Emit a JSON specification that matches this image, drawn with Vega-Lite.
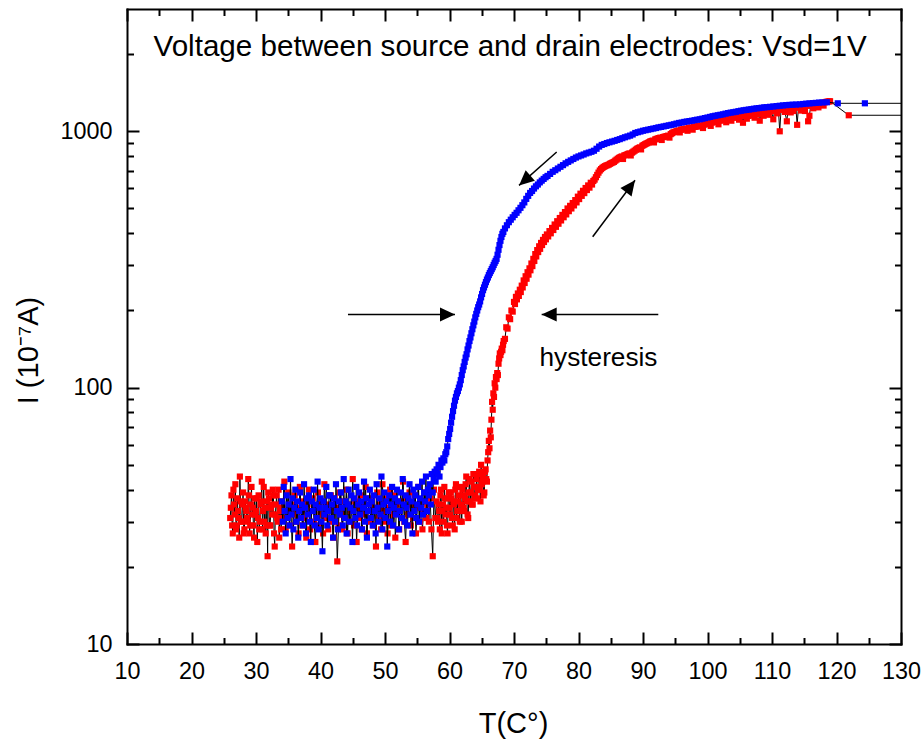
{
"$schema": "https://vega.github.io/schema/vega-lite/v6.json",
"width": 774, "height": 635,
"autosize": "none",
"padding": {"left": 127, "top": 9, "right": 21, "bottom": 95},
"background": "white",
"config": {"view": {"stroke": null}, "font": "Liberation Sans",
  "axis": {"grid": false, "labelFont": "Liberation Sans", "titleFont": "Liberation Sans", "labelColor": "black", "titleColor": "black", "tickColor": "black", "domainColor": "black", "titleFontWeight": "normal"}},
"datasets": {
"red": [
{"T":26.0,"I":31},{"T":26.1,"I":34},{"T":26.2,"I":38},{"T":26.3,"I":29},{"T":26.4,"I":27},{"T":26.5,"I":40},{"T":26.6,"I":35},{"T":26.7,"I":32},{"T":26.8,"I":42},{"T":26.9,"I":28},
{"T":27.0,"I":29},{"T":27.1,"I":37},{"T":27.2,"I":33},{"T":27.3,"I":31},{"T":27.4,"I":26},{"T":27.5,"I":45},{"T":27.6,"I":36},{"T":27.7,"I":30},{"T":27.8,"I":30},{"T":27.9,"I":35},
{"T":28.0,"I":39},{"T":28.1,"I":27},{"T":28.2,"I":28},{"T":28.3,"I":36},{"T":28.4,"I":34},{"T":28.5,"I":33},{"T":28.6,"I":31},{"T":28.7,"I":30},{"T":28.8,"I":44},{"T":28.9,"I":38},
{"T":29.0,"I":27},{"T":29.1,"I":29},{"T":29.2,"I":35},{"T":29.3,"I":41},{"T":29.4,"I":32},{"T":29.5,"I":34},{"T":29.6,"I":29},{"T":29.7,"I":26},{"T":29.8,"I":37},{"T":29.9,"I":32},
{"T":30.0,"I":33},{"T":30.1,"I":37},{"T":30.2,"I":25},{"T":30.3,"I":31},{"T":30.4,"I":38},{"T":30.5,"I":28},{"T":30.6,"I":30},{"T":30.7,"I":35},{"T":30.8,"I":36},{"T":30.9,"I":43},
{"T":31.0,"I":28},{"T":31.1,"I":33},{"T":31.2,"I":41},{"T":31.3,"I":30},{"T":31.4,"I":34},{"T":31.5,"I":27},{"T":31.6,"I":29},{"T":31.7,"I":36},{"T":31.8,"I":22},{"T":31.9,"I":39},
{"T":32.0,"I":37},{"T":32.1,"I":29},{"T":32.2,"I":29},{"T":32.3,"I":34},{"T":32.4,"I":35},{"T":32.5,"I":32},{"T":32.6,"I":40},{"T":32.7,"I":38},{"T":32.8,"I":27},{"T":32.9,"I":24},
{"T":33.0,"I":32},{"T":33.1,"I":35},{"T":33.2,"I":38},{"T":33.3,"I":31},{"T":33.4,"I":30},{"T":33.5,"I":40},{"T":33.6,"I":26},{"T":33.7,"I":33},{"T":33.8,"I":34},{"T":33.9,"I":28},
{"T":34.0,"I":36},{"T":34.2,"I":31},{"T":34.4,"I":43},{"T":34.6,"I":28},{"T":34.8,"I":33},{"T":35.0,"I":39},{"T":35.2,"I":29},{"T":35.4,"I":35},{"T":35.6,"I":24},{"T":35.8,"I":32},
{"T":36.0,"I":38},{"T":36.2,"I":30},{"T":36.4,"I":34},{"T":36.6,"I":27},{"T":36.8,"I":41},{"T":37.0,"I":33},{"T":37.2,"I":29},{"T":37.4,"I":36},{"T":37.6,"I":31},{"T":37.8,"I":26},
{"T":38.0,"I":35},{"T":38.2,"I":40},{"T":38.4,"I":28},{"T":38.6,"I":33},{"T":38.8,"I":37},{"T":39.0,"I":30},{"T":39.2,"I":25},{"T":39.4,"I":34},{"T":39.6,"I":39},{"T":39.8,"I":29},
{"T":40.0,"I":32},{"T":40.2,"I":36},{"T":40.4,"I":27},{"T":40.6,"I":42},{"T":40.8,"I":31},{"T":41.0,"I":35},{"T":41.2,"I":28},{"T":41.4,"I":33},{"T":41.6,"I":38},{"T":41.8,"I":30},
{"T":42.0,"I":26},{"T":42.2,"I":37},{"T":42.4,"I":34},{"T":42.6,"I":21},{"T":42.8,"I":29},{"T":43.0,"I":39},{"T":43.2,"I":32},{"T":43.4,"I":28},{"T":43.6,"I":36},{"T":43.8,"I":31},
{"T":44.0,"I":40},{"T":44.2,"I":27},{"T":44.4,"I":35},{"T":44.6,"I":30},{"T":44.8,"I":33},{"T":45.0,"I":44},{"T":45.2,"I":29},{"T":45.4,"I":36},{"T":45.6,"I":25},{"T":45.8,"I":34},
{"T":46.0,"I":31},{"T":46.2,"I":38},{"T":46.4,"I":28},{"T":46.6,"I":35},{"T":46.8,"I":32},{"T":47.0,"I":41},{"T":47.2,"I":27},{"T":47.4,"I":33},{"T":47.6,"I":37},{"T":47.8,"I":30},
{"T":48.0,"I":36},{"T":48.2,"I":29},{"T":48.4,"I":34},{"T":48.6,"I":24},{"T":48.8,"I":39},{"T":49.0,"I":31},{"T":49.2,"I":35},{"T":49.4,"I":28},{"T":49.6,"I":42},{"T":49.8,"I":33},
{"T":50.0,"I":30},{"T":50.2,"I":37},{"T":50.4,"I":27},{"T":50.6,"I":34},{"T":50.8,"I":40},{"T":51.0,"I":29},{"T":51.2,"I":32},{"T":51.4,"I":38},{"T":51.6,"I":26},{"T":51.8,"I":35},
{"T":52.0,"I":33},{"T":52.2,"I":28},{"T":52.4,"I":36},{"T":52.6,"I":31},{"T":52.8,"I":43},{"T":53.0,"I":30},{"T":53.2,"I":25},{"T":53.4,"I":37},{"T":53.6,"I":32},{"T":53.8,"I":39},
{"T":54.0,"I":29},{"T":54.2,"I":35},{"T":54.4,"I":31},{"T":54.6,"I":38},{"T":54.8,"I":27},{"T":55.0,"I":34},{"T":55.2,"I":41},{"T":55.4,"I":30},{"T":55.6,"I":36},{"T":55.8,"I":28},
{"T":56.0,"I":33},{"T":56.2,"I":39},{"T":56.4,"I":31},{"T":56.6,"I":35},{"T":56.8,"I":30},{"T":57.0,"I":37},{"T":57.2,"I":28},{"T":57.4,"I":22},{"T":57.6,"I":40},{"T":57.8,"I":31},
{"T":58.0,"I":36},{"T":58.1,"I":31},{"T":58.2,"I":30},{"T":58.3,"I":35},{"T":58.4,"I":33},{"T":58.5,"I":28},{"T":58.6,"I":38},{"T":58.7,"I":40},{"T":58.8,"I":27},{"T":58.9,"I":33},
{"T":59.0,"I":35},{"T":59.1,"I":30},{"T":59.2,"I":41},{"T":59.3,"I":37},{"T":59.4,"I":32},{"T":59.5,"I":34},{"T":59.6,"I":29},{"T":59.7,"I":27},{"T":59.8,"I":37},{"T":59.9,"I":39},
{"T":60.0,"I":34},{"T":60.1,"I":32},{"T":60.2,"I":39},{"T":60.3,"I":37},{"T":60.4,"I":31},{"T":60.5,"I":29},{"T":60.6,"I":36},{"T":60.7,"I":35},{"T":60.8,"I":28},{"T":60.9,"I":40},
{"T":61.0,"I":42},{"T":61.1,"I":31},{"T":61.2,"I":33},{"T":61.3,"I":36},{"T":61.4,"I":38},{"T":61.5,"I":33},{"T":61.6,"I":30},{"T":61.7,"I":41},{"T":61.8,"I":35},{"T":61.9,"I":30},
{"T":62.0,"I":40},{"T":62.1,"I":38},{"T":62.2,"I":34},{"T":62.3,"I":33},{"T":62.4,"I":37},{"T":62.5,"I":42},{"T":62.6,"I":45},{"T":62.7,"I":36},{"T":62.8,"I":32},{"T":62.9,"I":31},
{"T":63.0,"I":39},{"T":63.1,"I":44},{"T":63.2,"I":36},{"T":63.3,"I":39},{"T":63.4,"I":43},{"T":63.5,"I":35},{"T":63.6,"I":35},{"T":63.7,"I":46},{"T":63.8,"I":41},{"T":63.9,"I":37},
{"T":64.0,"I":38},{"T":64.1,"I":41},{"T":64.2,"I":44},{"T":64.3,"I":37},{"T":64.4,"I":40},{"T":64.5,"I":46},{"T":64.6,"I":47},{"T":64.7,"I":40},{"T":64.8,"I":36},{"T":64.9,"I":50},
{"T":65.0,"I":42},{"T":65.1,"I":43},{"T":65.2,"I":45},{"T":65.3,"I":38},{"T":65.4,"I":39},{"T":65.5,"I":47},{"T":65.6,"I":48},{"T":65.7,"I":44},{"T":65.8,"I":43},{"T":65.9,"I":52},
{"T":66.0,"I":56},{"T":66.1,"I":62},{"T":66.2,"I":58},{"T":66.3,"I":68},{"T":66.4,"I":64},{"T":66.5,"I":75},{"T":66.6,"I":88},{"T":66.7,"I":82},{"T":66.8,"I":95},{"T":66.9,"I":92},
{"T":67.0,"I":104},{"T":67.1,"I":100},{"T":67.2,"I":110},{"T":67.3,"I":108},{"T":67.4,"I":114},{"T":67.5,"I":112},{"T":67.6,"I":124},{"T":67.7,"I":130},{"T":67.8,"I":136},{"T":67.9,"I":134},
{"T":68.0,"I":138},{"T":68.1,"I":142},{"T":68.2,"I":140},{"T":68.3,"I":147},{"T":68.4,"I":152},{"T":68.6,"I":155},{"T":68.8,"I":172},{"T":69.0,"I":170},{"T":69.2,"I":188},{"T":69.4,"I":185},
{"T":69.6,"I":200},{"T":69.8,"I":198},{"T":70.0,"I":216},{"T":70.15,"I":212},{"T":70.3,"I":226},{"T":70.45,"I":221},{"T":70.6,"I":233},{"T":70.75,"I":228},{"T":70.9,"I":241},{"T":71.05,"I":236},
{"T":71.2,"I":250},{"T":71.35,"I":246},{"T":71.5,"I":262},{"T":71.65,"I":256},{"T":71.8,"I":272},{"T":71.95,"I":266},{"T":72.1,"I":282},{"T":72.25,"I":276},{"T":72.4,"I":292},{"T":72.55,"I":287},
{"T":72.7,"I":305},{"T":72.85,"I":298},{"T":73.0,"I":318},{"T":73.15,"I":312},{"T":73.3,"I":332},{"T":73.45,"I":325},{"T":73.6,"I":344},{"T":73.75,"I":338},{"T":73.9,"I":356},{"T":74.05,"I":348},
{"T":74.2,"I":367},{"T":74.35,"I":360},{"T":74.5,"I":377},{"T":74.65,"I":370},{"T":74.8,"I":387},{"T":74.95,"I":379},{"T":75.1,"I":396},{"T":75.3,"I":389},{"T":75.5,"I":408},{"T":75.7,"I":400},
{"T":75.9,"I":420},{"T":76.1,"I":412},{"T":76.3,"I":433},{"T":76.5,"I":424},{"T":76.7,"I":446},{"T":76.9,"I":436},{"T":77.1,"I":459},{"T":77.3,"I":449},{"T":77.5,"I":472},{"T":77.7,"I":462},
{"T":77.9,"I":484},{"T":78.1,"I":474},{"T":78.3,"I":500},{"T":78.5,"I":488},{"T":78.7,"I":512},{"T":78.9,"I":500},{"T":79.1,"I":525},{"T":79.3,"I":514},{"T":79.5,"I":539},{"T":79.7,"I":528},
{"T":79.9,"I":556},{"T":80.1,"I":544},{"T":80.3,"I":571},{"T":80.5,"I":560},{"T":80.7,"I":586},{"T":80.9,"I":574},{"T":81.1,"I":601},{"T":81.3,"I":590},{"T":81.5,"I":615},{"T":81.7,"I":603},
{"T":81.9,"I":630},{"T":82.1,"I":620},{"T":82.3,"I":640},{"T":82.5,"I":648},{"T":82.7,"I":662},{"T":82.9,"I":676},{"T":83.1,"I":690},{"T":83.3,"I":703},{"T":83.5,"I":712},{"T":83.7,"I":720},
{"T":83.9,"I":726},{"T":84.1,"I":731},{"T":84.3,"I":735},{"T":84.5,"I":738},{"T":84.7,"I":742},{"T":84.9,"I":747},{"T":85.1,"I":752},{"T":85.3,"I":756},{"T":85.5,"I":760},{"T":85.7,"I":768},
{"T":85.9,"I":775},{"T":86.1,"I":782},{"T":86.3,"I":788},{"T":86.5,"I":793},{"T":86.7,"I":798},{"T":86.9,"I":780},{"T":87.1,"I":805},{"T":87.3,"I":808},{"T":87.5,"I":812},{"T":87.7,"I":816},
{"T":87.9,"I":820},{"T":88.1,"I":805},{"T":88.3,"I":826},{"T":88.5,"I":833},{"T":88.7,"I":840},{"T":88.9,"I":848},{"T":89.1,"I":855},{"T":89.3,"I":860},{"T":89.5,"I":866},{"T":89.7,"I":850},
{"T":89.9,"I":878},{"T":90.1,"I":884},{"T":90.3,"I":890},{"T":90.5,"I":895},{"T":90.7,"I":900},{"T":90.9,"I":906},{"T":91.1,"I":912},{"T":91.3,"I":916},{"T":91.5,"I":920},{"T":91.7,"I":905},
{"T":91.9,"I":930},{"T":92.1,"I":934},{"T":92.3,"I":938},{"T":92.5,"I":941},{"T":92.7,"I":945},{"T":92.9,"I":925},{"T":93.1,"I":949},{"T":93.3,"I":952},{"T":93.5,"I":955},{"T":93.7,"I":958},
{"T":93.9,"I":962},{"T":94.1,"I":945},{"T":94.3,"I":975},{"T":94.5,"I":983},{"T":94.7,"I":990},{"T":94.9,"I":995},{"T":95.1,"I":998},{"T":95.3,"I":1003},{"T":95.5,"I":1008},{"T":95.7,"I":990},
{"T":95.9,"I":1015},{"T":96.1,"I":1017},{"T":96.3,"I":1018},{"T":96.5,"I":1022},{"T":96.7,"I":1025},{"T":96.9,"I":1005},{"T":97.1,"I":1030},{"T":97.3,"I":1032},{"T":97.5,"I":1035},{"T":97.7,"I":1015},
{"T":97.9,"I":1040},{"T":98.1,"I":1042},{"T":98.3,"I":1045},{"T":98.5,"I":1046},{"T":98.7,"I":1048},{"T":98.9,"I":1052},{"T":99.1,"I":1055},{"T":99.3,"I":1030},{"T":99.5,"I":1062},{"T":99.7,"I":1066},
{"T":99.9,"I":1070},{"T":100.1,"I":1072},{"T":100.3,"I":1075},{"T":100.5,"I":1050},{"T":100.7,"I":1082},{"T":100.9,"I":1086},{"T":101.1,"I":1090},{"T":101.3,"I":1092},{"T":101.5,"I":1094},{"T":101.7,"I":1065},
{"T":101.9,"I":1100},{"T":102.1,"I":1104},{"T":102.3,"I":1108},{"T":102.5,"I":1112},{"T":102.7,"I":1115},{"T":102.9,"I":1085},{"T":103.1,"I":1122},{"T":103.3,"I":1125},{"T":103.5,"I":1128},{"T":103.7,"I":1100},
{"T":103.9,"I":1135},{"T":104.1,"I":1133},{"T":104.3,"I":1130},{"T":104.5,"I":1136},{"T":104.7,"I":1140},{"T":104.9,"I":1110},{"T":105.1,"I":1145},{"T":105.3,"I":1147},{"T":105.5,"I":1080},{"T":105.7,"I":1148},
{"T":105.9,"I":1150},{"T":106.1,"I":1120},{"T":106.3,"I":1148},{"T":106.5,"I":1153},{"T":106.7,"I":1155},{"T":106.9,"I":1158},{"T":107.1,"I":1160},{"T":107.3,"I":1130},{"T":107.5,"I":1165},{"T":107.7,"I":1168},
{"T":107.9,"I":1170},{"T":108.1,"I":1100},{"T":108.3,"I":1175},{"T":108.5,"I":1178},{"T":108.7,"I":1150},{"T":108.9,"I":1185},{"T":109.1,"I":1188},{"T":109.3,"I":1190},{"T":109.5,"I":1160},{"T":109.7,"I":1195},
{"T":109.9,"I":1200},{"T":110.2,"I":1114},{"T":110.4,"I":1203},{"T":110.6,"I":1206},{"T":110.8,"I":1175},{"T":111.0,"I":1212},{"T":111.2,"I":1000},{"T":111.4,"I":1215},{"T":111.6,"I":1218},{"T":111.8,"I":1220},
{"T":112.0,"I":1190},{"T":112.3,"I":1094},{"T":112.5,"I":1226},{"T":112.7,"I":1229},{"T":112.9,"I":1185},{"T":113.1,"I":1233},{"T":113.3,"I":1200},{"T":113.5,"I":1238},{"T":113.7,"I":1240},{"T":113.9,"I":1060},
{"T":114.1,"I":1241},{"T":114.3,"I":1242},{"T":114.5,"I":1205},{"T":114.7,"I":1250},{"T":114.9,"I":1215},{"T":115.1,"I":1200},{"T":115.4,"I":1258},{"T":115.6,"I":1094},{"T":115.8,"I":1150},{"T":116.0,"I":1260},
{"T":116.2,"I":1262},{"T":116.4,"I":1230},{"T":116.6,"I":1270},{"T":116.8,"I":1272},{"T":117.0,"I":1274},{"T":117.2,"I":1240},{"T":117.4,"I":1282},{"T":117.6,"I":1286},{"T":117.8,"I":1290},{"T":118.0,"I":1260},
{"T":118.2,"I":1298},{"T":118.4,"I":1302},{"T":118.6,"I":1305},{"T":118.8,"I":1308},{"T":119.0,"I":1310},{"T":121.9,"I":1155},{"T":140,"I":1155}
],
"blue": [
{"T":34.0,"I":36},{"T":34.15,"I":30},{"T":34.3,"I":41},{"T":34.45,"I":33},{"T":34.6,"I":27},{"T":34.75,"I":38},{"T":34.9,"I":31},{"T":35.05,"I":35},{"T":35.2,"I":29},{"T":35.35,"I":44},
{"T":35.5,"I":32},{"T":35.65,"I":37},{"T":35.8,"I":28},{"T":35.95,"I":34},{"T":36.1,"I":40},{"T":36.25,"I":30},{"T":36.4,"I":36},{"T":36.55,"I":26},{"T":36.7,"I":33},{"T":36.85,"I":39},
{"T":37.0,"I":31},{"T":37.15,"I":35},{"T":37.3,"I":29},{"T":37.45,"I":42},{"T":37.6,"I":34},{"T":37.75,"I":27},{"T":37.9,"I":37},{"T":38.05,"I":32},{"T":38.2,"I":38},{"T":38.35,"I":30},
{"T":38.5,"I":25},{"T":38.65,"I":36},{"T":38.8,"I":33},{"T":38.95,"I":40},{"T":39.1,"I":29},{"T":39.25,"I":35},{"T":39.4,"I":31},{"T":39.55,"I":43},{"T":39.7,"I":28},{"T":39.85,"I":34},
{"T":40.0,"I":37},{"T":40.15,"I":30},{"T":40.3,"I":23},{"T":40.45,"I":36},{"T":40.6,"I":32},{"T":40.75,"I":34},{"T":40.9,"I":41},{"T":41.05,"I":29},{"T":41.2,"I":33},{"T":41.35,"I":38},
{"T":41.5,"I":38},{"T":41.65,"I":31},{"T":41.8,"I":35},{"T":41.95,"I":26},{"T":42.1,"I":37},{"T":42.25,"I":30},{"T":42.4,"I":42},{"T":42.55,"I":33},{"T":42.7,"I":28},{"T":42.85,"I":36},
{"T":43.0,"I":32},{"T":43.15,"I":39},{"T":43.3,"I":34},{"T":43.45,"I":29},{"T":43.6,"I":44},{"T":43.75,"I":31},{"T":43.9,"I":36},{"T":44.05,"I":27},{"T":44.2,"I":35},{"T":44.35,"I":40},
{"T":44.5,"I":30},{"T":44.65,"I":34},{"T":44.8,"I":38},{"T":44.95,"I":25},{"T":45.1,"I":33},{"T":45.25,"I":37},{"T":45.4,"I":31},{"T":45.55,"I":41},{"T":45.7,"I":29},{"T":45.85,"I":35},
{"T":46.0,"I":39},{"T":46.15,"I":32},{"T":46.3,"I":36},{"T":46.45,"I":28},{"T":46.6,"I":34},{"T":46.75,"I":43},{"T":46.9,"I":30},{"T":47.05,"I":37},{"T":47.2,"I":26},{"T":47.35,"I":33},
{"T":47.5,"I":35},{"T":47.65,"I":40},{"T":47.8,"I":31},{"T":47.95,"I":36},{"T":48.1,"I":29},{"T":48.25,"I":38},{"T":48.4,"I":33},{"T":48.55,"I":27},{"T":48.7,"I":42},{"T":48.85,"I":34},
{"T":49.0,"I":30},{"T":49.15,"I":37},{"T":49.3,"I":32},{"T":49.45,"I":45},{"T":49.6,"I":28},{"T":49.75,"I":35},{"T":49.9,"I":39},{"T":50.05,"I":31},{"T":50.2,"I":36},{"T":50.35,"I":24},
{"T":50.5,"I":33},{"T":50.65,"I":38},{"T":50.8,"I":30},{"T":50.95,"I":35},{"T":51.1,"I":41},{"T":51.25,"I":29},{"T":51.4,"I":34},{"T":51.55,"I":37},{"T":51.7,"I":32},{"T":51.85,"I":40},
{"T":52.0,"I":36},{"T":52.15,"I":28},{"T":52.3,"I":33},{"T":52.45,"I":39},{"T":52.6,"I":31},{"T":52.75,"I":44},{"T":52.9,"I":35},{"T":53.05,"I":30},{"T":53.2,"I":38},{"T":53.35,"I":34},
{"T":53.5,"I":29},{"T":53.65,"I":37},{"T":53.8,"I":42},{"T":53.95,"I":32},{"T":54.1,"I":36},{"T":54.25,"I":27},{"T":54.4,"I":40},{"T":54.55,"I":33},{"T":54.7,"I":38},{"T":54.85,"I":31},
{"T":55.0,"I":35},{"T":55.15,"I":41},{"T":55.3,"I":30},{"T":55.45,"I":37},{"T":55.6,"I":34},{"T":55.75,"I":43},{"T":55.9,"I":32},{"T":56.05,"I":39},{"T":56.2,"I":36},{"T":56.35,"I":45},
{"T":56.5,"I":33},{"T":56.65,"I":40},{"T":56.8,"I":38},{"T":56.95,"I":42},{"T":57.1,"I":35},{"T":57.25,"I":46},{"T":57.4,"I":39},
{"T":57.55,"I":44},{"T":57.7,"I":47},{"T":57.85,"I":43},{"T":58.0,"I":48},{"T":58.15,"I":46},{"T":58.3,"I":50},{"T":58.45,"I":45},{"T":58.6,"I":49},{"T":58.75,"I":52},{"T":58.9,"I":51},
{"T":59.05,"I":53},{"T":59.2,"I":52},{"T":59.35,"I":55},{"T":59.5,"I":56},{"T":59.65,"I":59},{"T":59.8,"I":63},{"T":59.95,"I":66},{"T":60.1,"I":69},{"T":60.25,"I":73},{"T":60.4,"I":77},
{"T":60.55,"I":81},{"T":60.7,"I":85},{"T":60.85,"I":89},{"T":61.0,"I":92},{"T":61.15,"I":95},{"T":61.3,"I":97},{"T":61.45,"I":100},{"T":61.6,"I":103},{"T":61.75,"I":107},{"T":61.9,"I":112},
{"T":62.05,"I":117},{"T":62.2,"I":121},{"T":62.35,"I":126},{"T":62.5,"I":131},{"T":62.65,"I":135},{"T":62.8,"I":141},{"T":62.95,"I":146},{"T":63.1,"I":152},{"T":63.25,"I":157},{"T":63.4,"I":163},
{"T":63.55,"I":169},{"T":63.7,"I":175},{"T":63.85,"I":181},{"T":64.0,"I":188},{"T":64.15,"I":194},{"T":64.3,"I":200},{"T":64.45,"I":206},{"T":64.6,"I":211},{"T":64.75,"I":217},{"T":64.9,"I":225},
{"T":65.05,"I":232},{"T":65.2,"I":240},{"T":65.35,"I":246},{"T":65.5,"I":252},{"T":65.65,"I":258},{"T":65.8,"I":264},{"T":65.95,"I":269},{"T":66.1,"I":275},{"T":66.25,"I":280},{"T":66.4,"I":285},
{"T":66.55,"I":290},{"T":66.7,"I":295},{"T":66.85,"I":301},{"T":67.0,"I":307},{"T":67.15,"I":312},{"T":67.3,"I":318},{"T":67.45,"I":330},{"T":67.6,"I":345},{"T":67.75,"I":360},{"T":67.9,"I":374},
{"T":68.05,"I":387},{"T":68.2,"I":398},{"T":68.35,"I":405},{"T":68.6,"I":418},{"T":68.9,"I":430},{"T":69.2,"I":442},{"T":69.5,"I":452},{"T":69.8,"I":462},{"T":70.1,"I":472},{"T":70.4,"I":481},
{"T":70.7,"I":492},{"T":71.0,"I":503},{"T":71.3,"I":515},{"T":71.6,"I":528},{"T":71.9,"I":545},{"T":72.2,"I":560},{"T":72.5,"I":575},{"T":72.8,"I":585},{"T":73.1,"I":598},{"T":73.4,"I":610},
{"T":73.7,"I":620},{"T":74.0,"I":632},{"T":74.3,"I":642},{"T":74.6,"I":652},{"T":74.9,"I":662},{"T":75.2,"I":670},{"T":75.6,"I":682},{"T":76.0,"I":695},{"T":76.4,"I":705},{"T":76.8,"I":716},
{"T":77.2,"I":727},{"T":77.6,"I":738},{"T":78.0,"I":750},{"T":78.4,"I":760},{"T":78.8,"I":770},{"T":79.2,"I":780},{"T":79.6,"I":790},{"T":80.0,"I":798},{"T":80.4,"I":805},{"T":80.8,"I":812},
{"T":81.2,"I":820},{"T":81.6,"I":826},{"T":82.0,"I":832},{"T":82.4,"I":840},{"T":82.8,"I":855},{"T":83.2,"I":872},{"T":83.6,"I":885},{"T":84.0,"I":892},{"T":84.4,"I":900},{"T":84.8,"I":906},
{"T":85.2,"I":912},{"T":85.6,"I":918},{"T":86.0,"I":925},{"T":86.4,"I":932},{"T":86.8,"I":940},{"T":87.2,"I":948},{"T":87.6,"I":955},{"T":88.0,"I":962},{"T":88.4,"I":972},{"T":88.8,"I":985},
{"T":89.2,"I":992},{"T":89.6,"I":998},{"T":90.0,"I":1005},{"T":90.4,"I":1010},{"T":90.8,"I":1015},{"T":91.2,"I":1020},{"T":91.6,"I":1025},{"T":92.0,"I":1030},{"T":92.4,"I":1036},{"T":92.8,"I":1040},
{"T":93.2,"I":1045},{"T":93.6,"I":1050},{"T":94.0,"I":1055},{"T":94.4,"I":1060},{"T":94.8,"I":1065},{"T":95.2,"I":1072},{"T":95.6,"I":1078},{"T":96.0,"I":1082},{"T":96.4,"I":1088},{"T":96.8,"I":1092},
{"T":97.2,"I":1096},{"T":97.6,"I":1100},{"T":98.0,"I":1105},{"T":98.4,"I":1110},{"T":98.8,"I":1114},{"T":99.2,"I":1120},{"T":99.6,"I":1126},{"T":100.0,"I":1132},{"T":100.4,"I":1138},{"T":100.8,"I":1145},
{"T":101.2,"I":1150},{"T":101.6,"I":1155},{"T":102.0,"I":1160},{"T":102.4,"I":1165},{"T":102.8,"I":1172},{"T":103.2,"I":1178},{"T":103.6,"I":1183},{"T":104.0,"I":1187},{"T":104.4,"I":1192},{"T":104.8,"I":1198},
{"T":105.2,"I":1203},{"T":105.6,"I":1208},{"T":106.0,"I":1212},{"T":106.4,"I":1216},{"T":106.8,"I":1220},{"T":107.2,"I":1225},{"T":107.6,"I":1229},{"T":108.0,"I":1232},{"T":108.4,"I":1236},{"T":108.8,"I":1240},
{"T":109.2,"I":1242},{"T":109.7,"I":1246},{"T":110.2,"I":1250},{"T":110.7,"I":1254},{"T":111.2,"I":1258},{"T":111.7,"I":1262},{"T":112.2,"I":1265},{"T":112.7,"I":1268},{"T":113.2,"I":1270},{"T":113.7,"I":1272},
{"T":114.3,"I":1274},{"T":114.8,"I":1278},{"T":115.3,"I":1282},{"T":115.8,"I":1285},{"T":116.3,"I":1288},{"T":116.8,"I":1291},{"T":117.3,"I":1294},{"T":117.8,"I":1296},{"T":118.5,"I":1298},{"T":120.2,"I":1286},
{"T":124.4,"I":1286},{"T":135,"I":1286}
]
},
"resolve": {"axis": {"x": "independent", "y": "independent"}},
"layer": [
{
 "data": {"name": "red"},
 "mark": {"type": "line", "color": "black", "strokeWidth": 1, "clip": true},
 "encoding": {
  "x": {"field": "T", "type": "quantitative", "scale": {"domain": [10, 130], "nice": false, "zero": false},
        "axis": {"orient": "bottom", "values": [10,20,30,40,50,60,70,80,90,100,110,120,130], "ticks": false, "domain": false, "labelFontSize": 23.4, "labelPadding": 34, "labelBaseline": "alphabetic", "labelFlush": false, "labelOverlap": false,
                 "title": "T(C°)", "titleFontSize": 29, "titleX": 386, "titleY": 88, "titleBaseline": "alphabetic", "titleAlign": "center", "zindex": 1}},
  "y": {"field": "I", "type": "quantitative", "scale": {"type": "log", "domain": [10, 3000], "nice": false},
        "axis": {"orient": "left", "values": [10, 100, 1000], "ticks": false, "domain": false, "labelFontSize": 23.4, "labelPadding": 15, "labelBaseline": "middle", "format": "d", "labelFlush": false, "labelOverlap": false,
                 "title": "I (10⁻⁷A)", "titleFontSize": 29, "titleX": -90, "titleY": 341, "titleAngle": -90, "titleBaseline": "alphabetic", "titleAlign": "center", "zindex": 1}}
 }
},
{
 "data": {"name": "red"},
 "mark": {"type": "point", "shape": "square", "filled": true, "color": "#ff0000", "size": 38, "opacity": 1, "clip": true},
 "encoding": {
  "x": {"field": "T", "type": "quantitative", "scale": {"domain": [10, 130], "nice": false, "zero": false},
        "axis": {"orient": "bottom", "values": [10,20,30,40,50,60,70,80,90,100,110,120,130], "labels": false, "title": null, "tickSize": -12, "tickWidth": 2, "domain": true, "domainWidth": 2, "domainCap": "square", "zindex": 1}},
  "y": {"field": "I", "type": "quantitative", "scale": {"type": "log", "domain": [10, 3000], "nice": false},
        "axis": {"orient": "left", "values": [10, 100, 1000], "labels": false, "title": null, "tickSize": -12, "tickWidth": 2, "domain": true, "domainWidth": 2, "domainCap": "square", "zindex": 1}}
 }
},
{
 "data": {"name": "blue"},
 "mark": {"type": "line", "color": "black", "strokeWidth": 1, "clip": true},
 "encoding": {
  "x": {"field": "T", "type": "quantitative", "scale": {"domain": [10, 130], "nice": false, "zero": false},
        "axis": {"orient": "bottom", "values": [15,25,35,45,55,65,75,85,95,105,115,125], "labels": false, "title": null, "tickSize": -6.5, "tickWidth": 2, "domain": false, "zindex": 1}},
  "y": {"field": "I", "type": "quantitative", "scale": {"type": "log", "domain": [10, 3000], "nice": false},
        "axis": {"orient": "left", "values": [20,30,40,50,60,70,80,90,200,300,400,500,600,700,800,900,2000], "labels": false, "title": null, "tickSize": -6.5, "tickWidth": 2, "domain": false, "zindex": 1}}
 }
},
{
 "data": {"name": "blue"},
 "mark": {"type": "point", "shape": "square", "filled": true, "color": "#0000ff", "size": 38, "opacity": 1, "clip": true},
 "encoding": {
  "x": {"field": "T", "type": "quantitative", "scale": {"domain": [10, 130], "nice": false, "zero": false},
        "axis": {"orient": "top", "values": [10,20,30,40,50,60,70,80,90,100,110,120,130], "labels": false, "title": null, "tickSize": -12, "tickWidth": 2, "domain": true, "domainWidth": 2, "domainCap": "square", "zindex": 1}},
  "y": {"field": "I", "type": "quantitative", "scale": {"type": "log", "domain": [10, 3000], "nice": false},
        "axis": {"orient": "right", "values": [10, 100, 1000], "labels": false, "title": null, "tickSize": -12, "tickWidth": 2, "domain": true, "domainWidth": 2, "domainCap": "square", "zindex": 1}}
 }
},
{
 "data": {"values": [
   {"x": 44.26, "y": 193, "x2": 60.85, "y2": 193},
   {"x": 92.37, "y": 193, "x2": 74.29, "y2": 193},
   {"x": 76.62, "y": 830, "x2": 70.78, "y2": 615},
   {"x": 82.2, "y": 388, "x2": 88.76, "y2": 644}
 ]},
 "mark": {"type": "rule", "color": "black", "strokeWidth": 1.5},
 "encoding": {
  "x": {"field": "x", "type": "quantitative", "scale": {"domain": [10, 130], "nice": false, "zero": false},
        "axis": {"orient": "top", "values": [15,25,35,45,55,65,75,85,95,105,115,125], "labels": false, "title": null, "tickSize": -6.5, "tickWidth": 2, "domain": false, "zindex": 1}},
  "y": {"field": "y", "type": "quantitative", "scale": {"type": "log", "domain": [10, 3000], "nice": false},
        "axis": {"orient": "right", "values": [20,30,40,50,60,70,80,90,200,300,400,500,600,700,800,900,2000], "labels": false, "title": null, "tickSize": -6.5, "tickWidth": 2, "domain": false, "zindex": 1}},
  "x2": {"field": "x2"},
  "y2": {"field": "y2"}
 }
},
{
 "data": {"values": [{"x": 60.85, "y": 193}]},
 "mark": {"type": "point", "shape": "M0,0L-2,-0.93L-2,0.93Z", "filled": true, "color": "black", "size": 225, "opacity": 1, "angle": 0},
 "encoding": {
  "x": {"field": "x", "type": "quantitative", "scale": {"domain": [10, 130], "nice": false, "zero": false}, "axis": null},
  "y": {"field": "y", "type": "quantitative", "scale": {"type": "log", "domain": [10, 3000], "nice": false}, "axis": null}
 }
},
{
 "data": {"values": [{"x": 74.29, "y": 193}]},
 "mark": {"type": "point", "shape": "M0,0L-2,-0.93L-2,0.93Z", "filled": true, "color": "black", "size": 225, "opacity": 1, "angle": 180},
 "encoding": {
  "x": {"field": "x", "type": "quantitative", "scale": {"domain": [10, 130], "nice": false, "zero": false}, "axis": null},
  "y": {"field": "y", "type": "quantitative", "scale": {"type": "log", "domain": [10, 3000], "nice": false}, "axis": null}
 }
},
{
 "data": {"values": [{"x": 70.78, "y": 615}]},
 "mark": {"type": "point", "shape": "M0,0L-2,-0.93L-2,0.93Z", "filled": true, "color": "black", "size": 225, "opacity": 1, "angle": 138.5},
 "encoding": {
  "x": {"field": "x", "type": "quantitative", "scale": {"domain": [10, 130], "nice": false, "zero": false}, "axis": null},
  "y": {"field": "y", "type": "quantitative", "scale": {"type": "log", "domain": [10, 3000], "nice": false}, "axis": null}
 }
},
{
 "data": {"values": [{"x": 88.76, "y": 644}]},
 "mark": {"type": "point", "shape": "M0,0L-2,-0.93L-2,0.93Z", "filled": true, "color": "black", "size": 225, "opacity": 1, "angle": 306.9},
 "encoding": {
  "x": {"field": "x", "type": "quantitative", "scale": {"domain": [10, 130], "nice": false, "zero": false}, "axis": null},
  "y": {"field": "y", "type": "quantitative", "scale": {"type": "log", "domain": [10, 3000], "nice": false}, "axis": null}
 }
},
{
 "data": {"values": [{"x": 69.4, "y": 1969, "label": "Voltage between source and drain electrodes: Vsd=1V"}]},
 "mark": {"type": "text", "font": "Liberation Sans", "fontSize": 29.6, "align": "center", "baseline": "alphabetic", "color": "black"},
 "encoding": {
  "x": {"field": "x", "type": "quantitative", "scale": {"domain": [10, 130], "nice": false, "zero": false}, "axis": null},
  "y": {"field": "y", "type": "quantitative", "scale": {"type": "log", "domain": [10, 3000], "nice": false}, "axis": null},
  "text": {"field": "label"}
 }
},
{
 "data": {"values": [{"x": 83.1, "y": 121, "label": "hysteresis"}]},
 "mark": {"type": "text", "font": "Liberation Sans", "fontSize": 26.2, "align": "center", "baseline": "alphabetic", "color": "black"},
 "encoding": {
  "x": {"field": "x", "type": "quantitative", "scale": {"domain": [10, 130], "nice": false, "zero": false}, "axis": null},
  "y": {"field": "y", "type": "quantitative", "scale": {"type": "log", "domain": [10, 3000], "nice": false}, "axis": null},
  "text": {"field": "label"}
 }
}
]
}
